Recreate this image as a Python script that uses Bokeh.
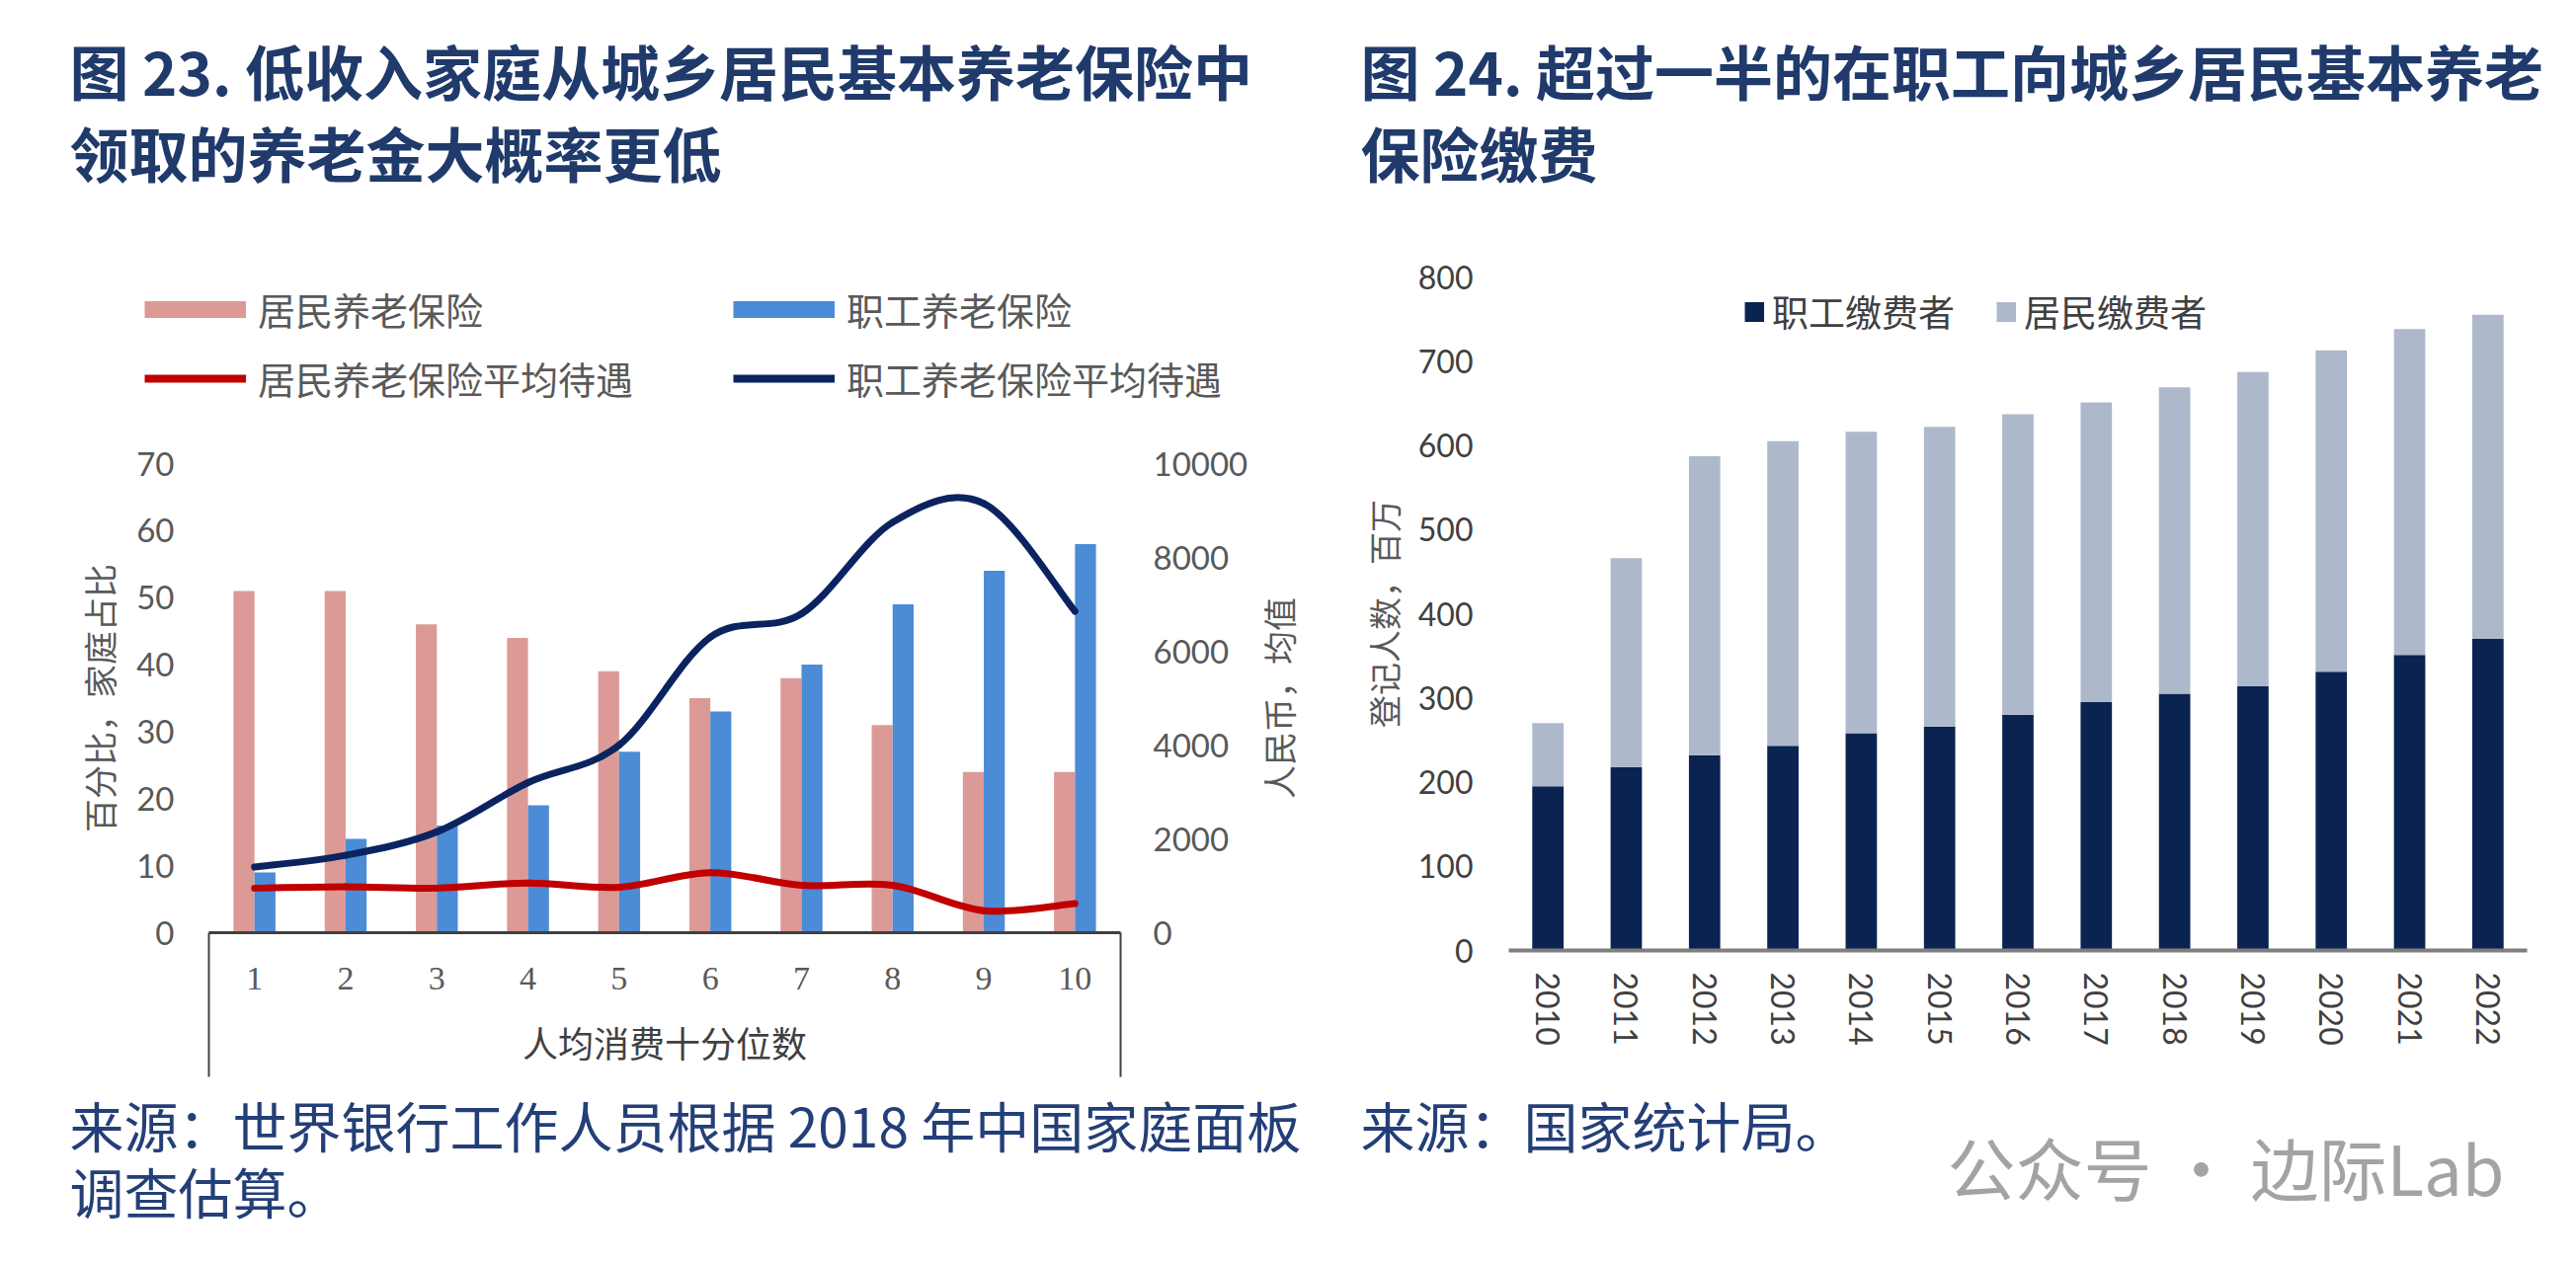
import math
import numpy as np
from bokeh.plotting import figure
from bokeh.models import (Range1d, LinearAxis, FixedTicker, Legend, LegendItem,
                          FactorRange, ColumnDataSource)
from bokeh.layouts import row, column
from bokeh.transform import dodge
from bokeh.core.properties import value
from bokeh.embed import file_html
from bokeh.resources import INLINE

# ---------------- Figure 23 data ----------------
deciles = [1, 2, 3, 4, 5, 6, 7, 8, 9, 10]
resident_share = [51, 51, 46, 44, 39, 35, 38, 31, 24, 24]          # 居民养老保险 (%)
employee_share = [9, 14, 16, 19, 27, 33, 40, 49, 54, 58]           # 职工养老保险 (%)
resident_benefit = [950, 980, 950, 1060, 970, 1280, 1010, 1010, 470, 620]      # 元
employee_benefit = [1400, 1650, 2150, 3200, 4000, 6300, 6800, 8750, 9150, 6850]  # 元
share_ticks = [0, 10, 20, 30, 40, 50, 60, 70]
rmb_ticks = [0, 2000, 4000, 6000, 8000, 10000]

# ---------------- Figure 24 data ----------------
years = ["2010", "2011", "2012", "2013", "2014", "2015", "2016",
         "2017", "2018", "2019", "2020", "2021", "2022"]
employee_payers = [195, 218, 232, 243, 258, 266, 280, 295, 305, 314, 331, 351, 370]
resident_payers = [75, 248, 355, 362, 358, 356, 357, 356, 364, 373, 382, 387, 385]
count_ticks = [0, 100, 200, 300, 400, 500, 600, 700, 800]

CJK = "Noto Sans CJK SC"
NUM = "Lato"
TITLE_C = "#1f3a6b"
FOOT_C = "#243f78"
AX_C = "#595959"

PINK = "#DC9A96"
BLUE = "#4C8BD6"
RED = "#C00000"
NAVY = "#0B2460"
DARK = "#0A2350"
LIGHT = "#ADB9CA"

NOTHING = np.array([np.nan])   # legend swatch proxies draw nothing in the frame


def smooth(xs, ys):
    """Excel-like smoothed line: cubic Bezier segments through the data points."""
    n = len(xs)
    d = dict(x0=[], y0=[], x1=[], y1=[], cx0=[], cy0=[], cx1=[], cy1=[])
    for i in range(n - 1):
        a = max(i - 1, 0)
        b = min(i + 2, n - 1)
        d["x0"].append(xs[i]); d["y0"].append(ys[i])
        d["x1"].append(xs[i + 1]); d["y1"].append(ys[i + 1])
        d["cx0"].append(xs[i] + (xs[i + 1] - xs[a]) / 6)
        d["cy0"].append(ys[i] + (ys[i + 1] - ys[a]) / 6)
        d["cx1"].append(xs[i + 1] - (xs[b] - xs[i]) / 6)
        d["cy1"].append(ys[i + 1] - (ys[b] - ys[i]) / 6)
    return ColumnDataSource(d)


def text_fig(w, h):
    f = figure(width=w, height=h, x_range=Range1d(0, w), y_range=Range1d(h, 0),
               output_backend="svg", toolbar_location=None,
               x_axis_location=None, y_axis_location=None,
               min_border=0, frame_align=False)
    f.outline_line_color = None
    f.grid.grid_line_color = None
    f.xgrid.visible = False
    f.ygrid.visible = False
    f.background_fill_color = "white"
    f.border_fill_color = "white"
    return f


def put(f, s, x, y, size, color, style="normal", align="left", angle=0.0, font=CJK):
    f.text(x=[x], y=[y], text=[s], text_font=value(font),
           text_font_size=value(f"{size}px"), text_font_style=style,
           text_color=color, text_align=align, text_baseline="middle", angle=angle)


def bare_axis(ax, standoff, font, size, color):
    ax.axis_line_color = None
    ax.major_tick_line_color = None
    ax.minor_tick_line_color = None
    ax.major_tick_out = 0
    ax.major_tick_in = 0
    ax.major_label_standoff = standoff
    ax.major_label_text_font = font
    ax.major_label_text_font_size = size
    ax.major_label_text_color = color


def axis_title(ax, s, size, color, standoff):
    ax.axis_label = s
    ax.axis_label_text_font = CJK
    ax.axis_label_text_font_size = f"{size}px"
    ax.axis_label_text_font_style = "normal"
    ax.axis_label_text_color = color
    ax.axis_label_standoff = standoff


# =============== Left column (图 23) ===============
head_L = text_fig(1340, 432)
put(head_L, "图 23. 低收入家庭从城乡居民基本养老保险中", 62, 62, 60, TITLE_C, style="bold")
put(head_L, "领取的养老金大概率更低", 62, 145, 60, TITLE_C, style="bold")
lg_pink = head_L.line(x=NOTHING, y=NOTHING, line_color=PINK, line_width=17)
lg_blue = head_L.line(x=NOTHING, y=NOTHING, line_color=BLUE, line_width=17)
lg_red = head_L.line(x=NOTHING, y=NOTHING, line_color=RED, line_width=8)
lg_navy = head_L.line(x=NOTHING, y=NOTHING, line_color=NAVY, line_width=8)
leg1 = Legend(items=[LegendItem(label="居民养老保险", renderers=[lg_pink]),
                     LegendItem(label="职工养老保险", renderers=[lg_blue]),
                     LegendItem(label="居民养老保险平均待遇", renderers=[lg_red]),
                     LegendItem(label="职工养老保险平均待遇", renderers=[lg_navy])],
              ncols=2, orientation="horizontal", location=(138, 30),
              glyph_width=103, glyph_height=46, label_height=46, label_standoff=12,
              label_width=466, spacing=15, padding=0, margin=0,
              border_line_color=None, background_fill_alpha=0,
              label_text_font=CJK, label_text_font_size="38px", label_text_color=AX_C)
head_L.add_layout(leg1)

chart_L = figure(width=1258, height=654, x_range=Range1d(0.5, 10.5), y_range=Range1d(0, 70),
                 output_backend="svg", toolbar_location=None, frame_align=False,
                 min_border_left=203, min_border_right=130,
                 min_border_top=29, min_border_bottom=150)
chart_L.extra_y_ranges = {"rmb": Range1d(0, 10000)}
chart_L.outline_line_color = None
chart_L.grid.grid_line_color = None

src1 = ColumnDataSource(dict(decile=deciles, resident=resident_share, employee=employee_share))
chart_L.vbar(x=dodge("decile", -0.115), top="resident", width=0.23, source=src1,
             fill_color=PINK, line_color=None)
chart_L.vbar(x=dodge("decile", 0.115), top="employee", width=0.23, source=src1,
             fill_color=BLUE, line_color=None)
chart_L.bezier(x0="x0", y0="y0", x1="x1", y1="y1", cx0="cx0", cy0="cy0", cx1="cx1", cy1="cy1",
               source=smooth(deciles, resident_benefit), line_color=RED, line_width=7,
               line_cap="round", y_range_name="rmb")
chart_L.bezier(x0="x0", y0="y0", x1="x1", y1="y1", cx0="cx0", cy0="cy0", cx1="cx1", cy1="cy1",
               source=smooth(deciles, employee_benefit), line_color=NAVY, line_width=7,
               line_cap="round", y_range_name="rmb")

ya = chart_L.yaxis[0]
ya.ticker = FixedTicker(ticks=share_ticks)
bare_axis(ya, 35, NUM, "33px", AX_C)
axis_title(ya, "百分比，家庭占比", 34, AX_C, 10)

yr = LinearAxis(y_range_name="rmb", ticker=FixedTicker(ticks=rmb_ticks))
bare_axis(yr, 33, NUM, "33px", AX_C)
chart_L.add_layout(yr, "right")

xa = chart_L.xaxis[0]
box_edges = [deciles[0] - 0.4995, deciles[-1] + 0.4995]
xa.ticker = FixedTicker(ticks=deciles, minor_ticks=box_edges)
xa.axis_line_color = "#404040"
xa.axis_line_width = 3
xa.major_tick_line_color = None
xa.major_tick_out = 0
xa.major_tick_in = 0
xa.minor_tick_line_color = "#404040"
xa.minor_tick_line_width = 2
xa.minor_tick_out = 146
xa.minor_tick_in = 0
xa.major_label_standoff = -111
xa.major_label_text_font = "Liberation Serif"
xa.major_label_text_font_size = "34px"
xa.major_label_text_color = AX_C
axis_title(xa, "人均消费十分位数", 36, "#404040", 24)

# title of the right-hand (RMB) axis, read bottom-to-top like the left one
strip_L = figure(width=82, height=654, x_range=Range1d(0, 1), y_range=Range1d(0, 1),
                 output_backend="svg", toolbar_location=None, frame_align=False,
                 x_axis_location=None, min_border_left=60, min_border_right=0,
                 min_border_top=29, min_border_bottom=150)
strip_L.outline_line_color = None
strip_L.grid.grid_line_color = None
sa = strip_L.yaxis[0]
sa.ticker = FixedTicker(ticks=[])
bare_axis(sa, 0, NUM, "33px", AX_C)
axis_title(sa, "人民币，均值", 34, AX_C, 22)

foot_L = text_fig(1340, 178)
put(foot_L, "来源：世界银行工作人员根据 2018 年中国家庭面板", 62, 43, 55, FOOT_C)
put(foot_L, "调查估算。", 62, 110, 55, FOOT_C)

left_col = column(head_L, row(chart_L, strip_L), foot_L)

# =============== Right column (图 24) ===============
head_R = text_fig(1252, 222)
put(head_R, "图 24. 超过一半的在职工向城乡居民基本养老", 29, 62, 60, TITLE_C, style="bold")
put(head_R, "保险缴费", 29, 145, 60, TITLE_C, style="bold")

chart_R = figure(width=1252, height=864, x_range=FactorRange(factors=years),
                 y_range=Range1d(0, 800), output_backend="svg", toolbar_location=None,
                 frame_align=False, min_border_left=179, min_border_right=42,
                 min_border_top=50, min_border_bottom=132)
chart_R.outline_line_color = None
chart_R.grid.grid_line_color = None

src2 = ColumnDataSource(dict(year=years, employee=employee_payers, resident=resident_payers))
chart_R.vbar_stack(["employee", "resident"], x="year", width=0.4, source=src2,
                   fill_color=[DARK, LIGHT], line_color=None)

lg_dark = chart_R.line(x=NOTHING, y=NOTHING, line_color=DARK, line_width=20)
lg_light = chart_R.line(x=NOTHING, y=NOTHING, line_color=LIGHT, line_width=20)
leg2 = Legend(items=[LegendItem(label="职工缴费者", renderers=[lg_dark]),
                     LegendItem(label="居民缴费者", renderers=[lg_light])],
              orientation="horizontal", location=(239, 620),
              glyph_width=20, glyph_height=45, label_height=45, label_standoff=8,
              spacing=42, padding=0, margin=0, border_line_color=None,
              background_fill_alpha=0, label_text_font=CJK,
              label_text_font_size="37px", label_text_color="#404040")
chart_R.add_layout(leg2)

ya2 = chart_R.yaxis[0]
ya2.ticker = FixedTicker(ticks=count_ticks)
bare_axis(ya2, 36, NUM, "32px", "#404040")
axis_title(ya2, "登记人数，百万", 33, AX_C, 8)

xa2 = chart_R.xaxis[0]
xa2.axis_line_color = "#7f7f7f"
xa2.axis_line_width = 4
xa2.major_tick_line_color = None
xa2.major_tick_out = 0
xa2.major_tick_in = 0
xa2.major_label_orientation = -math.pi / 2
xa2.major_label_standoff = 22
xa2.major_label_text_font = NUM
xa2.major_label_text_font_size = "32px"
xa2.major_label_text_color = "#404040"

foot_R = text_fig(1252, 178)
put(foot_R, "来源：国家统计局。", 29, 43, 55, FOOT_C)
put(foot_R, "公众号 · 边际Lab", 623, 86, 69, "#a3a3a3")

right_col = column(head_R, chart_R, foot_R)

layout = row(left_col, right_col, margin=(8, 0, 0, 8))
open("out.html", "w").write(file_html(layout, INLINE))
